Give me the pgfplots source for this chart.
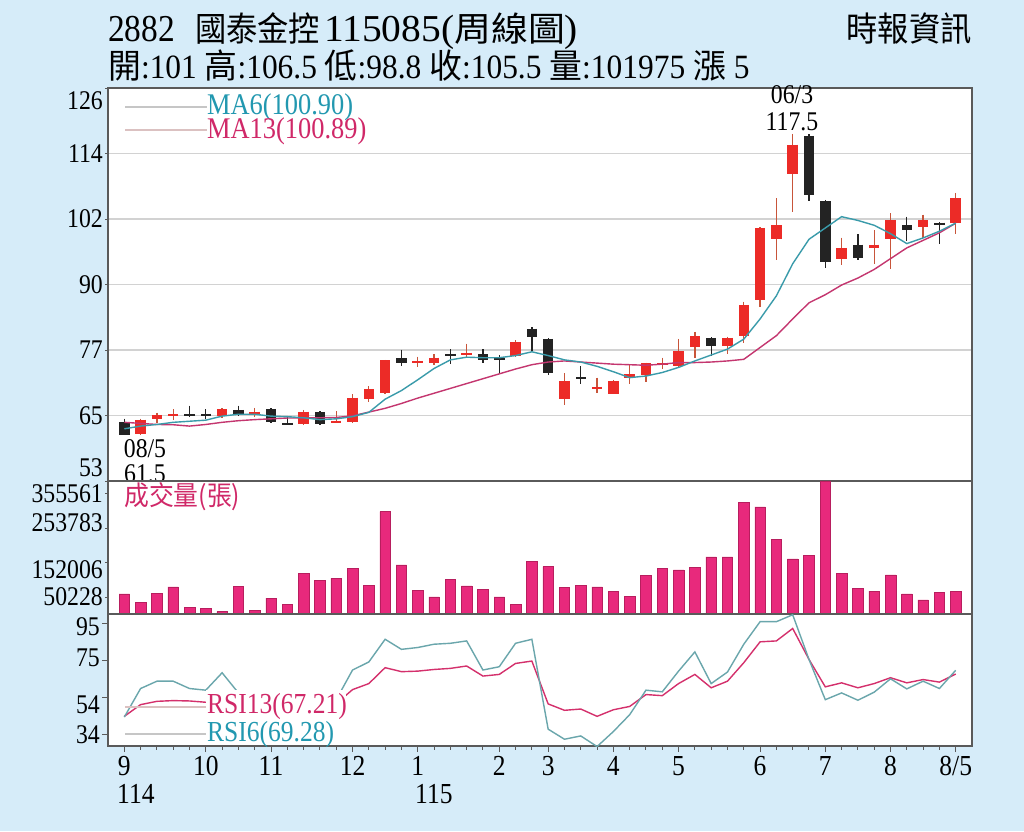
\documentclass[border=0pt]{standalone}
\usepackage{fontspec}
\setmainfont{Liberation Serif}[FakeStretch=0.88]
\newfontfamily\cjk{Noto Sans CJK TC}[FakeStretch=0.92]
\usepackage{pgfplots}
\pgfplotsset{compat=1.18}
\usepackage{pgfplotstable}

\definecolor{bgblue}{HTML}{D6ECF9}
\definecolor{cred}{HTML}{EC2B27}
\definecolor{cwick}{HTML}{C8553A}
\definecolor{cblack}{HTML}{232323}
\definecolor{volpink}{HTML}{E8297C}
\definecolor{volline}{HTML}{B81E5E}
\definecolor{maTeal}{HTML}{3A9BAA}
\definecolor{maMag}{HTML}{C4366F}
\definecolor{txtTeal}{HTML}{2298B0}
\definecolor{txtMag}{HTML}{D02868}
\definecolor{rsiTeal}{HTML}{6AA6AC}
\definecolor{rsiMag}{HTML}{D4306C}
\definecolor{frame}{HTML}{5A5A5A}
\definecolor{gridc}{HTML}{D2D2D2}

\newcommand{\lift}[2]{\raisebox{#1}[\height][\depth]{#2}}

% weekly candles, up weeks (red)
\pgfplotstableread{
x o h l c
1 61.8 64.6 61.6 64.4
2 64.6 65.7 63.8 65.3
3 65.1 66.3 64.3 65.4
6 65.1 66.5 64.7 66.3
8 65.5 66.6 64.9 65.9
11 63.5 66.2 63.4 65.9
13 63.8 66.0 63.7 64.2
14 64.0 69.1 63.8 68.5
15 68.3 70.6 67.7 70.0
16 69.3 75.5 69.2 75.4
18 74.9 76.1 74.2 75.3
19 75.0 76.5 74.5 75.9
21 76.4 78.5 76.0 76.8
24 76.3 79.1 76.1 78.8
27 68.3 73.0 67.2 71.6
29 70.1 72.2 69.3 70.5
30 69.2 71.8 69.1 71.6
31 72.2 74.7 71.0 72.8
32 72.6 75.0 71.4 74.9
33 74.5 75.9 73.8 74.9
34 74.3 79.4 74.0 77.1
35 77.8 80.7 75.8 79.9
37 78.0 79.8 76.5 79.6
38 79.9 86.3 78.7 85.7
39 86.7 100.1 85.3 100.0
40 97.9 105.5 94.0 100.5
41 110.1 117.5 103.0 115.5
44 94.3 98.2 93.2 96.3
46 96.2 99.6 93.4 96.9
47 98.0 102.7 92.4 101.4
49 100.2 102.5 98.2 101.4
51 101.0 106.5 98.8 105.5
}\upc

% down weeks (black)
\pgfplotstableread{
x o h l c
0 63.9 64.6 61.5 61.5
4 65.4 67.0 64.8 65.1
5 65.5 66.3 64.6 65.0
7 66.2 67.0 65.0 65.2
9 66.4 66.5 63.8 63.9
10 63.8 64.9 63.4 63.4
12 65.8 66.0 63.4 63.6
17 75.8 77.4 74.3 74.9
20 76.6 77.5 74.7 76.2
22 76.5 77.5 75.0 75.5
23 75.8 76.4 73.0 75.5
25 81.3 81.6 77.1 79.8
26 79.4 79.5 72.6 73.0
28 72.3 74.3 71.1 71.9
36 79.6 79.7 76.2 78.0
42 117.1 117.4 105.0 106.1
43 105.0 105.2 92.5 93.7
45 96.9 98.8 94.0 94.4
48 100.5 102.1 97.5 99.6
50 101.0 101.1 97.1 100.6
}\dnc

\pgfplotstableread{
x ma6 ma13 vol rsi6 rsi13
0 62.7 63.9 59300 43.7 44.1
1 63.2 63.7 34600 59.3 50.5
2 63.5 63.5 62200 63.3 52.3
3 63.9 63.45 80000 63.3 52.7
4 64.1 63.2 18800 59.3 52.5
5 64.3 63.5 15800 58.4 51.8
6 65.05 63.9 6900 67.9 51.4
7 65.4 64.2 81000 56.9 50.5
8 65.4 64.4 9900 57.6 51.0
9 65.05 64.55 47400 53.2 49.9
10 64.95 64.7 27700 50.5 49.4
11 64.75 64.7 119500 57.6 51.6
12 64.4 64.75 99700 50.5 49.9
13 64.55 64.8 105700 53.2 51.0
14 64.95 65.1 134300 69.4 58.7
15 65.75 65.8 83900 73.8 62.0
16 68.2 66.5 303200 86.2 70.7
17 69.8 67.4 145200 80.7 68.5
18 71.8 68.4 71100 81.7 68.8
19 73.9 69.3 50400 83.5 69.7
20 75.5 70.2 102700 84.0 70.3
21 76.0 71.1 83000 85.3 71.6
22 75.9 72.0 73100 69.4 66.1
23 75.9 72.9 50400 71.2 67.0
24 76.3 73.8 27700 84.0 73.0
25 77.0 74.6 157000 86.2 74.3
26 76.3 75.1 140200 37.1 50.9
27 75.5 75.3 78000 31.6 47.4
28 75.1 75.1 83900 33.4 48.1
29 74.3 74.9 80000 27.6 44.1
30 73.3 74.7 66100 35.8 47.7
31 72.2 74.6 52400 45.0 49.5
32 72.5 74.5 113600 58.4 56.0
33 73.15 74.7 134300 57.5 55.4
34 74.1 75.0 130400 68.8 62.0
35 75.3 75.0 137300 79.3 67.0
36 76.4 75.1 168900 62.0 59.7
37 77.5 75.3 168900 68.3 63.3
38 79.35 75.6 329800 83.5 73.4
39 83.1 77.8 317000 95.8 84.8
40 87.4 80.0 221200 95.8 85.3
41 93.35 83.1 163000 99.6 92.1
42 97.9 86.1 172800 75.2 75.2
43 100.0 87.6 394000 53.2 60.2
44 102.1 89.4 119500 56.9 62.4
45 101.4 90.7 75000 52.9 59.7
46 100.5 92.3 68100 57.3 62.0
47 98.95 94.3 115600 64.6 65.2
48 97.1 96.3 59300 59.1 62.4
49 98.15 97.7 41500 63.3 64.2
50 99.4 99.1 64200 59.3 62.8
51 100.9 100.89 66100 69.28 67.21
}\wk

\pgfplotsset{
  panel/.style={
    scale only axis, width=864pt, anchor=south west,
    xmin=-1, xmax=52,
    axis background/.style={fill=white},
    axis line style={draw=frame, line width=1.4pt},
    ytick pos=left, ytick align=outside,
    major tick length=3pt,
    tick style={draw=frame, line width=1pt},
    yticklabel style={font=\fontsize{27}{27}\selectfont, inner sep=0pt, xshift=-2pt},
    xtick=\empty,
    scaled y ticks=false,
  },
  wick/.style={draw=none, no markers,
    error bars/.cd, y dir=minus, y explicit, error mark=none,
    error bar style={draw=#1, line width=1.3pt}},
  body/.style={draw=none, no markers,
    error bars/.cd, y dir=minus, y explicit, error mark=none,
    error bar style={draw=#1, line width=10.5pt}},
}

\begin{document}
\begin{tikzpicture}[x=1pt, y=1pt]
\useasboundingbox (0,0) rectangle (1024,831);
\fill[bgblue] (0,0) rectangle (1024,831);

% price panel
\begin{axis}[panel, at={(108pt,350pt)}, height=393pt,
  ymin=53, ymax=126,
  ytick={53,65.1667,77.3333,89.5,101.6667,113.8333,126},
  yticklabels={\lift{13pt}{53},65,77,90,102,114,\lift{-13pt}{126}},
  ymajorgrids, grid style={draw=gridc, line width=1.5pt}]
\addplot[wick=cwick] table[x=x, y=h, y error minus expr=\thisrow{h}-\thisrow{l}] {\upc};
\addplot[wick=cblack] table[x=x, y=h, y error minus expr=\thisrow{h}-\thisrow{l}] {\dnc};
\addplot[body=cred] table[x=x, y=c, y error minus expr=\thisrow{c}-\thisrow{o}] {\upc};
\addplot[body=cblack] table[x=x, y=o, y error minus expr=\thisrow{o}-\thisrow{c}] {\dnc};
\addplot[maMag, line width=1.4pt] table[x=x, y=ma13] {\wk};
\addplot[maTeal, line width=1.4pt] table[x=x, y=ma6] {\wk};
\end{axis}

\begin{scope}[font=\fontsize{27}{27}\selectfont]
\node at (145,382) {08/5};
\node at (145,357) {61.5};
\node at (792,736) {06/3};
\node at (792,709) {117.5};
\end{scope}
\draw[gray!45, line width=1.2pt] (125,724) -- (207,724);
\draw[pink!60!gray!70, line width=1.2pt] (125,701) -- (207,701);
\node[anchor=west, inner sep=0pt, text=txtTeal, font=\fontsize{30}{30}\selectfont] at (207,724) {MA6(100.90)};
\node[anchor=west, inner sep=0pt, text=txtMag, font=\fontsize{30}{30}\selectfont] at (207,700) {MA13(100.89)};

% volume panel
\begin{axis}[panel, at={(108pt,217pt)}, height=133pt,
  ymin=0, ymax=394000,
  ytick={50228,152006,253783,355561},
  yticklabels={50228,\lift{-7pt}{152006},\lift{6pt}{253783},355561}]
\addplot[ybar, bar width=10.5pt, fill=volpink, draw=volline, line width=0.5pt] table[x=x, y=vol] {\wk};
\end{axis}
\node[anchor=west, inner sep=0pt, text=txtMag] at (124,334) {\fontsize{27}{27}\cjk 成交量(張)};

% RSI panel
\begin{axis}[panel, at={(108pt,85pt)}, height=132pt,
  ymin=27.9, ymax=100,
  ytick={34,54.33,74.67,95},
  yticklabels={34,\lift{-7pt}{54},\lift{3pt}{75},\lift{-4pt}{95}},
  xtick={0,5,9,14,18,23,26,30,34,39,43,47,51},
  xticklabels={9,10,11,12,1,2,3,4,5,6,7,8,8/5},
  minor xtick={0,...,51},
  xtick pos=bottom, xtick align=outside,
  major tick length=6pt, minor tick length=3.5pt,
  xticklabel style={font=\fontsize{29}{29}\selectfont, inner sep=0pt, yshift=-4pt}]
\addplot[rsiMag, line width=1.4pt] table[x=x, y=rsi13] {\wk};
\addplot[rsiTeal, line width=1.4pt] table[x=x, y=rsi6] {\wk};
\end{axis}
\fill[white] (206,87) rectangle (346,141);
\draw[pink!60!gray!70, line width=1.2pt] (125,124) -- (206,124);
\draw[gray!45, line width=1.2pt] (125,97) -- (206,97);
\node[anchor=west, inner sep=0pt, text=txtMag, font=\fontsize{29}{29}\selectfont] at (207,124) {RSI13(67.21)};
\node[anchor=west, inner sep=0pt, text=txtTeal, font=\fontsize{29}{29}\selectfont] at (207,96) {RSI6(69.28)};

% year labels under the month ticks
\node[anchor=base west, inner sep=0pt, font=\fontsize{29}{29}\selectfont] at (117,28) {114};
\node[anchor=base west, inner sep=0pt, font=\fontsize{29}{29}\selectfont] at (415,28) {115};

% header
\node[anchor=base west, inner sep=0pt, font=\fontsize{38}{38}\selectfont] at (108,789)
  {2882\hspace{20pt}{\fontsize{34}{34}\cjk 國泰金控}\hspace{4pt}\scalebox{1.18}[1]{115085({\fontsize{34}{34}\cjk 周線圖})}};
\node[anchor=base west, inner sep=0pt, font=\fontsize{34}{34}\selectfont] at (108,752)
  {\scalebox{1.05}[1]{{\cjk 開}:101 {\cjk 高}:106.5 {\cjk 低}:98.8 {\cjk 收}:105.5 {\cjk 量}:101975 {\cjk 漲} 5}};
\node[anchor=base east, inner sep=0pt] at (972,789) {\fontsize{34}{34}\cjk 時報資訊};
\end{tikzpicture}
\end{document}
